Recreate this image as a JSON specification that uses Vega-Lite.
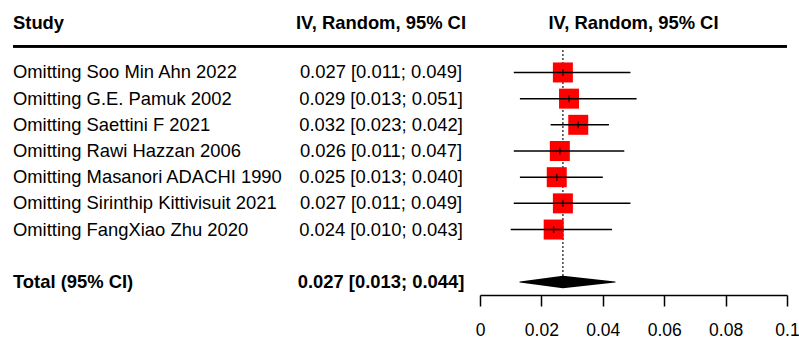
{
  "$schema": "https://vega.github.io/schema/vega-lite/v6.json",
  "autosize": {"type": "pad"},
  "padding": {"left": 12, "top": 7, "right": 5, "bottom": 0},
  "spacing": 0,
  "bounds": "flush",
  "data": {
    "values": [
      {"row": "Study", "kind": "header", "ci": "IV, Random, 95% CI"},
      {"row": "Omitting Soo Min Ahn 2022", "kind": "study", "est": 0.027, "lo": 0.011, "hi": 0.049, "ci": "0.027 [0.011; 0.049]"},
      {"row": "Omitting G.E. Pamuk 2002", "kind": "study", "est": 0.029, "lo": 0.013, "hi": 0.051, "ci": "0.029 [0.013; 0.051]"},
      {"row": "Omitting Saettini F 2021", "kind": "study", "est": 0.032, "lo": 0.023, "hi": 0.042, "ci": "0.032 [0.023; 0.042]"},
      {"row": "Omitting Rawi Hazzan 2006", "kind": "study", "est": 0.026, "lo": 0.011, "hi": 0.047, "ci": "0.026 [0.011; 0.047]"},
      {"row": "Omitting Masanori ADACHI 1990", "kind": "study", "est": 0.025, "lo": 0.013, "hi": 0.040, "ci": "0.025 [0.013; 0.040]"},
      {"row": "Omitting Sirinthip Kittivisuit 2021", "kind": "study", "est": 0.027, "lo": 0.011, "hi": 0.049, "ci": "0.027 [0.011; 0.049]"},
      {"row": "Omitting FangXiao Zhu 2020", "kind": "study", "est": 0.024, "lo": 0.010, "hi": 0.043, "ci": "0.024 [0.010; 0.043]"},
      {"row": "Total (95% CI)", "kind": "total", "est": 0.027, "lo": 0.013, "hi": 0.044, "ci": "0.027 [0.013; 0.044]"}
    ]
  },
  "hconcat": [
    {
      "width": 269,
      "height": 288,
      "encoding": {
        "y": {"field": "row", "type": "nominal", "scale": {"type": "point", "padding": 0.5, "domain": ["Study", " ", "Omitting Soo Min Ahn 2022", "Omitting G.E. Pamuk 2002", "Omitting Saettini F 2021", "Omitting Rawi Hazzan 2006", "Omitting Masanori ADACHI 1990", "Omitting Sirinthip Kittivisuit 2021", "Omitting FangXiao Zhu 2020", "  ", "Total (95% CI)"]}, "axis": null}
      },
      "layer": [
        {
          "mark": {"type": "rule", "color": "#000", "strokeWidth": 2},
          "encoding": {"y": {"datum": " ", "type": "nominal"}}
        },
        {
          "transform": [{"filter": "datum.kind === 'study'"}],
          "mark": {"type": "text", "align": "left", "baseline": "middle", "fontSize": 18.4},
          "encoding": {"x": {"value": 0}, "text": {"field": "row"}}
        },
        {
          "transform": [{"filter": "datum.kind === 'header'"}],
          "mark": {"type": "text", "align": "left", "baseline": "middle", "fontSize": 18.4, "fontWeight": "bold", "yOffset": 2.5},
          "encoding": {"x": {"value": 0}, "text": {"field": "row"}}
        },
        {
          "transform": [{"filter": "datum.kind === 'total'"}],
          "mark": {"type": "text", "align": "left", "baseline": "middle", "fontSize": 18.4, "fontWeight": "bold"},
          "encoding": {"x": {"value": 0}, "text": {"field": "row"}}
        }
      ]
    },
    {
      "width": 198,
      "height": 288,
      "encoding": {
        "y": {"field": "row", "type": "nominal", "scale": {"type": "point", "padding": 0.5, "domain": ["Study", " ", "Omitting Soo Min Ahn 2022", "Omitting G.E. Pamuk 2002", "Omitting Saettini F 2021", "Omitting Rawi Hazzan 2006", "Omitting Masanori ADACHI 1990", "Omitting Sirinthip Kittivisuit 2021", "Omitting FangXiao Zhu 2020", "  ", "Total (95% CI)"]}, "axis": null}
      },
      "layer": [
        {
          "mark": {"type": "rule", "color": "#000", "strokeWidth": 2},
          "encoding": {"y": {"datum": " ", "type": "nominal"}}
        },
        {
          "transform": [{"filter": "datum.kind === 'study'"}],
          "mark": {"type": "text", "align": "center", "baseline": "middle", "fontSize": 18.4},
          "encoding": {"text": {"field": "ci"}}
        },
        {
          "transform": [{"filter": "datum.kind === 'header'"}],
          "mark": {"type": "text", "align": "center", "baseline": "middle", "fontSize": 18.4, "fontWeight": "bold", "yOffset": 2.5},
          "encoding": {"text": {"field": "ci"}}
        },
        {
          "transform": [{"filter": "datum.kind === 'total'"}],
          "mark": {"type": "text", "align": "center", "baseline": "middle", "fontSize": 18.4, "fontWeight": "bold"},
          "encoding": {"text": {"field": "ci"}}
        }
      ]
    },
    {
      "width": 307,
      "height": 288,
      "encoding": {
        "y": {"field": "row", "type": "nominal", "scale": {"type": "point", "padding": 0.5, "domain": ["Study", " ", "Omitting Soo Min Ahn 2022", "Omitting G.E. Pamuk 2002", "Omitting Saettini F 2021", "Omitting Rawi Hazzan 2006", "Omitting Masanori ADACHI 1990", "Omitting Sirinthip Kittivisuit 2021", "Omitting FangXiao Zhu 2020", "  ", "Total (95% CI)"]}, "axis": null}
      },
      "layer": [
        {
          "mark": {"type": "rule", "color": "#000", "strokeWidth": 2},
          "encoding": {"y": {"datum": " ", "type": "nominal"}}
        },
        {
          "transform": [{"filter": "datum.kind === 'total'"}],
          "mark": {"type": "rule", "color": "#000", "strokeWidth": 1.5, "strokeDash": [1.5, 2.5]},
          "encoding": {
            "x": {"field": "est", "type": "quantitative", "scale": {"domain": [0, 0.1], "nice": false}, "axis": {"title": null, "values": [0, 0.02, 0.04, 0.06, 0.08, 0.1], "format": "~g"}},
            "y": {"datum": " ", "type": "nominal"},
            "y2": {"datum": "Total (95% CI)"}
          }
        },
        {
          "transform": [{"filter": "datum.kind === 'study'"}],
          "mark": {"type": "square", "size": 400, "color": "#FF0000", "opacity": 1, "filled": true},
          "encoding": {"x": {"field": "est", "type": "quantitative", "axis": {"title": null}}}
        },
        {
          "transform": [{"filter": "datum.kind === 'study'"}],
          "mark": {"type": "rule", "color": "#000", "strokeWidth": 1.5},
          "encoding": {
            "x": {"field": "lo", "type": "quantitative", "axis": {"title": null}},
            "x2": {"field": "hi"}
          }
        },
        {
          "transform": [{"filter": "datum.kind === 'study'"}],
          "mark": {"type": "tick", "color": "#000", "size": 7, "thickness": 1.5, "orient": "vertical"},
          "encoding": {"x": {"field": "est", "type": "quantitative", "axis": {"title": null}}}
        },
        {
          "transform": [{"filter": "datum.kind === 'total'"}, {"fold": ["lo", "est", "hi"], "as": ["vertex", "xval"]}],
          "mark": {"type": "trail", "color": "#000"},
          "encoding": {
            "x": {"field": "xval", "type": "quantitative", "axis": {"title": null}},
            "size": {"field": "vertex", "type": "ordinal", "scale": {"type": "ordinal", "domain": ["lo", "est", "hi"], "range": [0, 12.5, 0]}, "legend": null},
            "order": {"field": "xval", "type": "quantitative"}
          }
        },
        {
          "transform": [{"filter": "datum.kind === 'header'"}],
          "mark": {"type": "text", "align": "center", "baseline": "middle", "fontSize": 18.4, "fontWeight": "bold", "yOffset": 2.5},
          "encoding": {"text": {"field": "ci"}}
        }
      ]
    }
  ],
  "config": {
    "view": {"stroke": null},
    "font": "Liberation Sans",
    "text": {"font": "Liberation Sans", "color": "#000"},
    "axis": {
      "labelFont": "Liberation Sans",
      "labelFontSize": 17.5,
      "labelColor": "#000",
      "domainColor": "#000",
      "tickColor": "#000",
      "domainWidth": 1.5,
      "tickWidth": 1.5,
      "tickSize": 11,
      "labelPadding": 15,
      "grid": false,
      "labelFlush": false,
      "offset": 0
    }
  }
}
